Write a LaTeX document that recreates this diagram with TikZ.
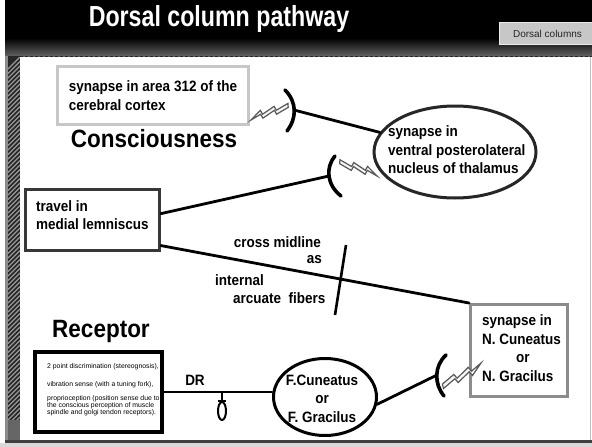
\documentclass[tikz,border=0pt]{standalone}
\usepackage{fontspec}
\setmainfont{Liberation Sans}[FakeStretch=0.9]
\newfontfamily\titlefont{Liberation Sans}[FakeStretch=0.8]
\newfontfamily\plainfont{Liberation Sans}
\usetikzlibrary{shapes.geometric,calc}

\begin{document}
\begin{tikzpicture}[x=1pt,y=-1pt,
  lbl/.style={font=\fontsize{15}{18.5}\selectfont\bfseries, inner sep=0pt},
  big/.style={font=\fontsize{25}{28}\selectfont\bfseries, inner sep=0pt},
  conn/.style={line width=2.8pt, line cap=round},
  synarc/.style={line width=3.6pt, line cap=round},
  zap/.pic={\draw[black!65, fill=black!4, line width=1.2pt, line join=miter]
    (0,0) -- (10,-9) -- (12,-5) -- (24,-12) -- (26,-8) -- (38,-14)
    -- (38,-10) -- (26,-4) -- (24,-8) -- (12,-1) -- (10,-5) -- cycle;},
]
\useasboundingbox (0,0) rectangle (592,447);

% slide frame
\fill[white] (0,0) rectangle (592,447);
\fill[black] (5,0) rectangle (592,56);
\shade[top color=black, bottom color=black!62] (5,38) rectangle (592,56);
\draw[black!85, line width=1.5pt, dash pattern=on 3pt off 2pt] (5,56.5) -- (592,56.5);
\fill[black!45] (5,56) rectangle (8,441);
\fill[black!85] (8,56) rectangle (20,420);
\begin{scope}
  \clip (8,57) rectangle (20,420);
  \foreach \k in {0,4.5,...,380}
    \draw[black!40, line width=1.1pt] (8,{57+\k+12}) -- (20,{57+\k});
\end{scope}
\fill[black!60] (8,420) rectangle (20,441);
\fill[black!75] (5,440) rectangle (592,442.5);
\fill[black!15] (0,442.5) rectangle (592,447);
\draw[black!25, line width=1pt] (590,57) -- (590,440);

% header
\node[font=\titlefont\fontsize{29}{32}\selectfont\bfseries, text=white, anchor=base, inner sep=0pt]
  (title) at (219,27) {Dorsal column pathway};
\node[draw=black!8, fill=black!22, line width=1pt, minimum width=96pt, minimum height=22pt,
  anchor=north west, inner sep=0pt, font=\plainfont\fontsize{10}{12}\selectfont, text=black!85]
  (btn) at (499,22) {Dorsal columns};

% boxes and nuclei
\node[draw=black!22, line width=3pt, minimum width=191pt, minimum height=58pt, align=left, lbl]
  (cortex) at (153,95.5) {synapse in area 312 of the\\cerebral cortex};
\node[big, anchor=base] (consc) at (154,147) {Consciousness};

\node[ellipse, draw=black!85, line width=3pt, minimum width=162pt, minimum height=92pt]
  (thal) at (455,152) {};
\node[lbl, align=left, anchor=west] (thaltxt) at (388,150)
  {synapse in\\ventral posterolateral\\nucleus of thalamus};

\node[draw=black!78, line width=3pt, minimum width=134pt, minimum height=61pt]
  (ml) at (92.5,220) {};
\node[lbl, align=left, anchor=west] (mltxt) at (36,215) {travel in\\medial lemniscus};

\node[draw=black!45, line width=3pt, minimum width=97pt, minimum height=92pt]
  (nc) at (519,350.5) {};
\node[lbl, align=left, anchor=west] (nctxt) at (482,348)
  {synapse in\\N. Cuneatus\\\hspace*{34pt}or\\N. Gracilus};

\node[ellipse, draw=black, line width=3pt, minimum width=103pt, minimum height=77pt]
  (fc) at (325,397) {};
\node[lbl, align=center] (fctxt) at (322,398.5) {F.Cuneatus\\or\\F. Gracilus};

\node[big, anchor=base] (recept) at (101,337) {Receptor};
\node[draw=black, line width=4pt, minimum width=127pt, minimum height=80pt]
  (rec) at (98.5,392) {};
\node[font=\plainfont\fontsize{6.85}{7}\selectfont, align=left, anchor=north west, inner sep=0pt]
  (rectxt) at (47,363)
  {2 point discrimination (stereognosis),\\[11pt]vibration sense (with a tuning fork),\\[7pt]proprioception (position sense due to\\the conscious perception of muscle\\spindle and golgi tendon receptors).};

% labels along the pathway
\node[lbl, anchor=east] (cross) at (321,242) {cross midline};
\node[lbl, anchor=east] (as) at (322,260) {as};
\node[lbl, anchor=west] (internal) at (215,280) {internal};
\node[lbl, anchor=west] (arcuate) at (233,298) {arcuate\ \ fibers};
\node[lbl] (dr) at (195,380) {DR};

% synaptic endings
\draw[synarc] (285,90) .. controls (297,102) and (297,118) .. (287,131);
\coordinate (a1) at (294,110);
\draw[synarc] (335,156) .. controls (325,168) and (327,185) .. (341,196);
\coordinate (a2) at (329,176);
\draw[synarc] (446,355) .. controls (434,366) and (434,384) .. (444,396);
\coordinate (a3) at (437,375);

\pic[shift={(251,120)}, rotate=4] {zap};
\pic[shift={(377,176)}, xscale=-1, rotate=3.5] {zap};
\pic[shift={(481,363)}, rotate=194, scale=1.12] {zap};

% fibres
\draw[conn] (a1) -- (thal);
\draw[conn] ($(ml.north east)!0.4!(ml.south east)$) -- (a2);
\draw[conn] ($(ml.north east)!0.9!(ml.south east)$) -- (nc.north west);
\draw[conn] (rec.east) -- (rec.east -| fc.west);
\draw[conn] (fc.-8) -- (a3);

% midline crossing mark
\coordinate (t1) at (346,245);
\coordinate (t2) at (335,315);
\draw[line width=2.6pt] (t1) -- (t2);

% dorsal root ganglion
\coordinate (gtop) at (222,392);
\node[ellipse, draw, line width=2pt, minimum width=8pt, minimum height=18pt, inner sep=0pt]
  (gang) at (222,411) {};
\draw[line width=2pt] (gtop) -- (gang.north);
\draw[line width=1.6pt] ($(gang.north)+(-4,0)$) -- ($(gang.north)+(4,0)$);
\end{tikzpicture}
\end{document}
